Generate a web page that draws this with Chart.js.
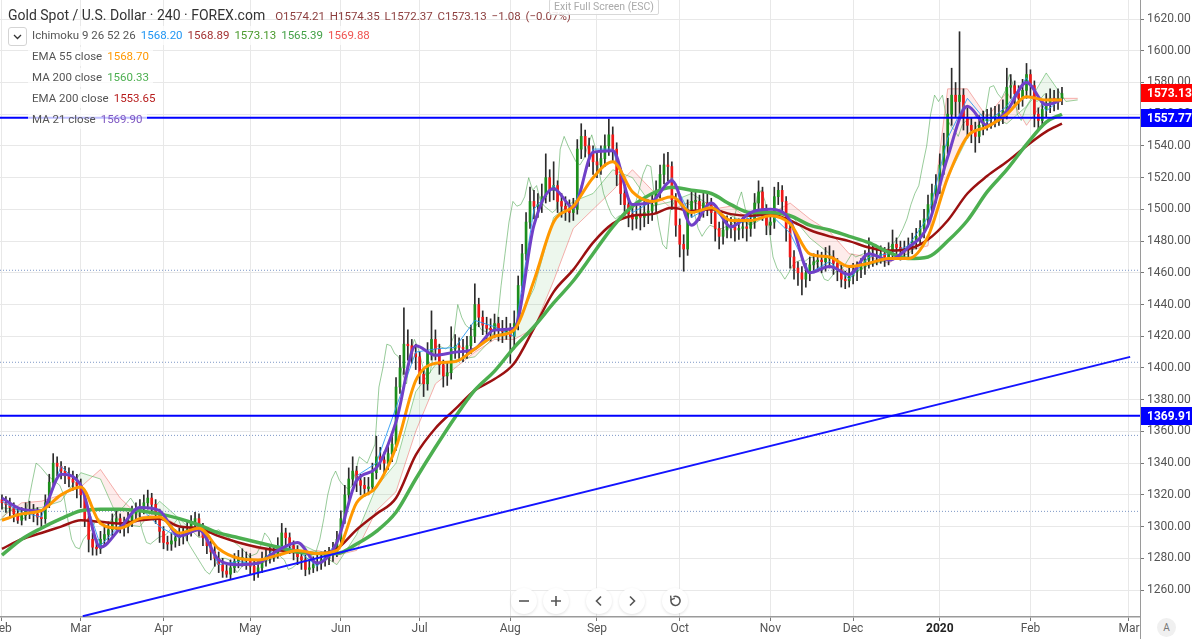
<!DOCTYPE html>
<html>
<head>
<meta charset="utf-8">
<title>Gold Spot / U.S. Dollar - 240</title>
<script src="https://cdn.jsdelivr.net/npm/chart.js@4.4.1/dist/chart.umd.min.js"></script>
<style>
  html, body { margin: 0; padding: 0; background: #fff; }
  #wrap { position: relative; width: 1192px; height: 639px; overflow: hidden; font-family: Roboto, "Noto Sans", sans-serif; }
  #chart { position: absolute; left: 0; top: 0; }
  .title { position: absolute; left: 8px; top: 5px; height: 20px; line-height: 20px; font-size: 14px; color: #333; white-space: nowrap; }
  .title .ohlc { margin-left: 10px; font-size: 11.5px; color: #8d3f3f; word-spacing: 2px; }
  .row { position: absolute; left: 28px; height: 19px; line-height: 19px; padding: 0 4px; font-size: 11.5px; color: #555; background: rgba(255,255,255,0.75); white-space: nowrap; }
  .row span { margin-left: 5px; }
  .toggle { position: absolute; left: 8px; top: 27px; width: 17px; height: 17px; border: 1px solid #d4d4d4; border-radius: 3px; background: #fff; }
  .exit { position: absolute; left: 549px; top: -1px; width: 108px; height: 14px; line-height: 14px; border: 1px solid #d8d8d8; border-radius: 2px; background: rgba(255,255,255,0.88); color: #aaa; font-size: 10.5px; text-align: center; }
  .btn { position: absolute; top: 588px; width: 26px; height: 26px; border-radius: 50%; background: #fff; box-shadow: 0 1px 3px rgba(0,0,0,0.12); }
  .btn svg { position: absolute; left: 6px; top: 6px; }
  .auto { position: absolute; left: 1157px; top: 618px; width: 19px; height: 19px; border-radius: 50%; background: #f0f0f0; color: #777; font-size: 10px; line-height: 19px; text-align: center; }
</style>
</head>
<body>
<div id="wrap">
  <canvas id="chart" width="1192" height="639"></canvas>

  <div class="title">Gold Spot / U.S. Dollar · 240 · FOREX.com<span class="ohlc">O1574.21 H1574.35 L1572.37 C1573.13 −1.08 (−0.07%)</span></div>
  <div class="exit">Exit Full Screen (ESC)</div>

  <div class="toggle"><svg width="17" height="17" viewBox="0 0 17 17"><path d="M5 7 L8.5 10.5 L12 7" fill="none" stroke="#333" stroke-width="1.3"/></svg></div>
  <div class="row" style="top:26px">Ichimoku 9 26 52 26<span style="color:#2196f3">1568.20</span><span style="color:#a33131">1568.89</span><span style="color:#4a9a2c">1573.13</span><span style="color:#43a047">1565.39</span><span style="color:#ef5350">1569.88</span></div>
  <div class="row" style="top:47px">EMA 55 close<span style="color:#ff9800">1568.70</span></div>
  <div class="row" style="top:68px">MA 200 close<span style="color:#4caf50">1560.33</span></div>
  <div class="row" style="top:89px">EMA 200 close<span style="color:#b71c1c">1553.65</span></div>
  <div class="row" style="top:110px">MA 21 close<span style="color:#7e57c2">1569.90</span></div>

  <div class="btn" style="left:511px"><svg width="14" height="14" viewBox="0 0 14 14"><path d="M2 7 H12" stroke="#555" stroke-width="1.6"/></svg></div>
  <div class="btn" style="left:543px"><svg width="14" height="14" viewBox="0 0 14 14"><path d="M2 7 H12 M7 2 V12" stroke="#555" stroke-width="1.6"/></svg></div>
  <div class="btn" style="left:586px"><svg width="14" height="14" viewBox="0 0 14 14"><path d="M9 2.5 L4.5 7 L9 11.5" fill="none" stroke="#555" stroke-width="1.6"/></svg></div>
  <div class="btn" style="left:619px"><svg width="14" height="14" viewBox="0 0 14 14"><path d="M5 2.5 L9.5 7 L5 11.5" fill="none" stroke="#555" stroke-width="1.6"/></svg></div>
  <div class="btn" style="left:662px"><svg width="14" height="14" viewBox="0 0 14 14"><path d="M3.2 5.2 A4.6 4.6 0 1 0 5.5 2.7" fill="none" stroke="#555" stroke-width="1.6"/><path d="M2.6 1.6 L3.1 5.6 L6.8 4.4" fill="none" stroke="#555" stroke-width="1.4"/></svg></div>
  <div class="auto">A</div>
</div>

<script>
// x values are trading days counted from 1 Feb 2019
const monthTicks = [0, 20, 41, 63, 86, 106, 129, 151, 172, 195, 216, 238, 261, 286];
const monthLabels = ['Feb', 'Mar', 'Apr', 'May', 'Jun', 'Jul', 'Aug', 'Sep', 'Oct', 'Nov', 'Dec', '2020', 'Feb', 'Mar'];
const priceTicks = [1260, 1280, 1300, 1320, 1340, 1360, 1380, 1400, 1420, 1440, 1460, 1480, 1500, 1520, 1540, 1560, 1580, 1600, 1620];

const firstOpen = 1317;
const closes = [
  1315,1314,1312,1308,1304,1307,1310,1310,1308,1306,
  1305,1315,1328,1340,1338,1335,1332,1330,1328,1326,
  1320,1305,1292,1287,1286,1292,1295,1298,1303,1305,
  1302,1300,1304,1308,1310,1312,1315,1318,1314,1308,
  1297,1290,1289,1291,1293,1294,1295,1298,1302,1305,
  1299,1293,1288,1284,1280,1276,1272,1270,1274,1278,
  1280,1280,1279,1275,1271,1274,1279,1281,1282,1283,
  1288,1296,1293,1288,1284,1281,1279,1273,1274,1276,
  1277,1279,1280,1282,1284,1292,1305,1320,1330,1335,
  1329,1326,1324,1325,1334,1344,1342,1340,1346,1352,
  1388,1400,1415,1414,1409,1407,1396,1390,1410,1418,
  1412,1402,1395,1397,1412,1414,1413,1412,1414,1420,
  1440,1432,1427,1425,1424,1428,1424,1423,1425,1420,
  1428,1452,1472,1492,1505,1502,1503,1508,1520,1512,
  1515,1505,1502,1500,1498,1500,1538,1546,1540,1535,
  1530,1528,1532,1540,1547,1538,1522,1510,1503,1497,
  1494,1496,1495,1498,1499,1503,1512,1522,1528,1527,
  1506,1490,1478,1475,1500,1505,1505,1500,1504,1503,
  1498,1488,1483,1487,1490,1489,1487,1488,1489,1488,
  1492,1504,1511,1500,1490,1492,1508,1512,1505,1488,
  1470,1463,1460,1456,1460,1465,1467,1468,1467,1469,
  1470,1466,1462,1456,1455,1458,1461,1462,1464,1468,
  1472,1470,1471,1472,1470,1474,1478,1476,1474,1475,
  1477,1480,1483,1488,1494,1503,1510,1515,1528,1540,
  1560,1572,1568,1572,1558,1553,1550,1546,1553,1556,
  1557,1558,1559,1560,1562,1577,1578,1573,1570,1575,
  1585,1578,1560,1556,1563,1567,1570,1568,1570,1573
];
const highs = [
  1320,1319,1318,1315,1311,1312,1315,1316,1314,1312,
  1310,1320,1333,1346,1344,1341,1338,1337,1335,1333,
  1330,1323,1308,1296,1292,1297,1300,1303,1308,1310,
  1308,1306,1309,1313,1315,1317,1320,1323,1321,1317,
  1311,1300,1294,1296,1298,1299,1300,1303,1307,1309,
  1308,1302,1296,1292,1288,1284,1280,1276,1279,1283,
  1285,1286,1284,1283,1279,1279,1284,1286,1287,1288,
  1293,1302,1299,1296,1291,1288,1285,1282,1279,1281,
  1282,1284,1285,1287,1290,1297,1310,1326,1337,1344,
  1338,1333,1331,1331,1340,1357,1350,1347,1352,1358,
  1394,1408,1438,1424,1418,1415,1410,1399,1416,1436,
  1424,1415,1405,1404,1426,1421,1419,1418,1420,1427,
  1453,1444,1436,1432,1431,1434,1432,1430,1432,1428,
  1436,1458,1478,1498,1514,1512,1510,1516,1535,1525,
  1530,1518,1510,1508,1506,1507,1544,1554,1550,1545,
  1540,1536,1540,1547,1557,1552,1542,1526,1514,1507,
  1502,1503,1502,1505,1506,1510,1518,1528,1535,1536,
  1530,1510,1494,1484,1506,1512,1512,1509,1511,1510,
  1507,1501,1492,1493,1496,1495,1494,1494,1495,1494,
  1498,1510,1518,1514,1503,1498,1514,1517,1515,1508,
  1491,1474,1467,1464,1466,1470,1472,1474,1473,1476,
  1477,1474,1469,1465,1461,1464,1466,1467,1469,1474,
  1482,1477,1476,1477,1476,1479,1487,1482,1480,1480,
  1482,1485,1488,1493,1500,1509,1516,1522,1535,1548,
  1570,1589,1580,1612,1576,1564,1558,1555,1559,1562,
  1563,1564,1565,1566,1569,1589,1585,1581,1578,1582,
  1592,1588,1581,1564,1569,1573,1576,1575,1576,1577
];
const lows = [
  1311,1309,1306,1303,1302,1301,1304,1305,1303,1301,
  1300,1302,1312,1325,1332,1330,1327,1325,1323,1318,
  1312,1300,1284,1282,1282,1283,1288,1291,1294,1298,
  1296,1294,1296,1300,1303,1306,1308,1311,1308,1302,
  1290,1286,1285,1285,1287,1288,1289,1291,1294,1297,
  1294,1288,1283,1279,1275,1271,1268,1268,1267,1271,
  1274,1275,1273,1270,1266,1268,1271,1275,1277,1278,
  1280,1285,1287,1283,1279,1276,1273,1269,1270,1271,
  1272,1273,1275,1276,1278,1281,1289,1302,1316,1326,
  1322,1320,1319,1320,1322,1330,1336,1334,1336,1341,
  1348,1384,1396,1405,1403,1399,1390,1382,1386,1405,
  1405,1396,1388,1389,1393,1406,1406,1404,1406,1409,
  1416,1426,1421,1418,1417,1419,1417,1416,1418,1403,
  1412,1424,1448,1468,1488,1494,1495,1498,1504,1505,
  1506,1498,1495,1493,1492,1493,1497,1532,1533,1527,
  1522,1520,1522,1527,1534,1530,1515,1503,1496,1489,
  1487,1488,1487,1489,1491,1493,1498,1507,1516,1518,
  1500,1483,1470,1461,1471,1495,1498,1493,1495,1496,
  1491,1480,1475,1478,1482,1482,1480,1481,1482,1480,
  1483,1488,1499,1493,1484,1484,1488,1503,1498,1480,
  1463,1456,1452,1446,1451,1455,1460,1461,1460,1461,
  1463,1459,1455,1451,1450,1451,1453,1455,1457,1459,
  1463,1464,1465,1466,1464,1465,1469,1470,1468,1469,
  1470,1472,1475,1478,1482,1489,1498,1504,1510,1522,
  1535,1553,1558,1560,1550,1545,1542,1536,1542,1547,
  1550,1551,1552,1553,1554,1557,1570,1566,1563,1565,
  1570,1571,1552,1550,1552,1558,1561,1562,1563,1566
];

// moving averages every 5 trading days
const maIdx = [0,5,10,15,20,25,30,35,40,45,50,55,60,65,70,75,80,85,90,95,100,105,110,115,120,125,130,135,140,145,150,155,160,165,170,175,180,185,190,195,200,205,210,215,220,225,230,235,240,245,250,255,260,265,269];
const ma21 = [
  1318,1311,1310,1333,1326,1287,1299,1312,1310,1294,
  1298,1279,1276,1277,1285,1290,1277,1290,1329,1337,
  1366,1414,1408,1410,1412,1424,1425,1490,1513,1501,
  1536,1537,1503,1505,1518,1490,1504,1489,1498,1500,
  1493,1460,1464,1459,1472,1468,1476,1490,1533,1565,
  1553,1562,1580,1566,1569
];
const ema55 = [
  1304,1308,1310,1320,1325,1302,1299,1305,1306,1296,
  1299,1286,1280,1279,1282,1285,1283,1285,1315,1325,
  1350,1392,1403,1404,1412,1420,1424,1455,1492,1502,
  1520,1530,1511,1505,1508,1498,1501,1493,1493,1496,
  1491,1472,1470,1464,1466,1469,1469,1483,1520,1546,
  1552,1560,1571,1569,1569
];
const ma200 = [
  1282,1292,1299,1305,1310,1311,1311,1310,1308,1305,
  1301,1296,1293,1290,1287,1284,1283,1283,1289,1297,
  1309,1330,1350,1369,1386,1398,1413,1426,1441,1455,
  1472,1489,1502,1510,1514,1512,1510,1503,1498,1498,
  1496,1490,1487,1483,1479,1473,1469,1470,1480,1493,
  1511,1525,1541,1555,1560
];
const ema200 = [
  1286,1292,1296,1300,1304,1303,1302,1304,1305,1300,
  1299,1294,1290,1287,1285,1284,1283,1286,1298,1308,
  1318,1345,1362,1374,1386,1393,1403,1425,1448,1462,
  1479,1491,1496,1497,1501,1499,1500,1497,1496,1497,
  1493,1487,1483,1480,1476,1474,1475,1481,1493,1510,
  1521,1530,1540,1549,1554
];
const tenkan = [
  1316,1309,1306,1338,1326,1288,1301,1312,1300,1293,
  1300,1276,1278,1276,1288,1285,1275,1290,1332,1340,
  1375,1410,1412,1413,1430,1426,1420,1500,1515,1500,
  1538,1538,1498,1505,1520,1495,1502,1488,1495,1497,
  1485,1460,1467,1456,1470,1472,1477,1495,1545,1570,
  1555,1565,1583,1562,1570
];

// Ichimoku cloud, shifted 26 bars ahead
const cloudIdx = [0,5,10,15,20,25,30,35,40,45,50,55,60,65,70,75,80,85,90,95,100,105,110,115,120,125,130,135,140,145,150,155,160,165,170,175,180,185,190,195,200,205,210,215,220,225,230,235,240,245,250,255,260,265,270,273];
const spanA = [
  1312,1310,1312,1316,1334,1330,1302,1300,1316,1305,
  1293,1298,1288,1276,1281,1290,1284,1276,1295,1325,
  1340,1385,1402,1405,1407,1420,1425,1450,1495,1505,
  1510,1525,1520,1502,1505,1510,1502,1496,1490,1497,
  1497,1482,1472,1458,1465,1468,1472,1482,1520,1545,
  1560,1554,1565,1586,1568,1569
];
const spanB = [
  1306,1315,1316,1320,1325,1336,1318,1306,1308,1300,
  1300,1295,1290,1286,1284,1283,1285,1282,1285,1310,
  1322,1360,1390,1400,1410,1418,1418,1425,1455,1488,
  1500,1512,1525,1512,1500,1505,1500,1502,1493,1497,
  1504,1494,1486,1472,1470,1466,1474,1477,1576,1576,
  1558,1574,1553,1570,1570,1570
];
const lagShift = 26 / 6;

// drawings
const lastPrice = 1573.13;
const levelLines = [1557.77, 1369.91];
const dottedLines = [1461.6, 1403.6, 1357.5, 1309.6];
const trendLine = [[20.5, 1243.5], [286.3, 1407]];

const X_MIN = -0.5, X_MAX = 288.8, Y_MIN = 1243, Y_MAX = 1632;
const UP = '#1c8f1c', DOWN = '#f01818', WICK = '#2b2b2b';
const FONT = 'Roboto, "Noto Sans", sans-serif';

const opens = closes.map((c, i) => i === 0 ? firstOpen : closes[i - 1]);
const wickData = closes.map((c, i) => ({ x: i, y: [lows[i], highs[i]] }));
const bodyData = closes.map((c, i) => ({ x: i, y: [opens[i], c] }));
const bodyColors = closes.map((c, i) => c >= opens[i] ? UP : DOWN);
const pts = (xs, ys) => xs.map((x, i) => ({ x: x, y: ys[i] }));
const lagData = closes.map((c, i) => ({ x: i - lagShift, y: c }));

function lineSet(label, data, color, width, order, extra) {
  return Object.assign({
    type: 'line', label: label, data: data, borderColor: color, borderWidth: width,
    pointRadius: 0, fill: false, tension: 0, order: order
  }, extra || {});
}

const datasets = [
  lineSet('Span A', pts(cloudIdx, spanA), 'rgba(76,175,80,0.55)', 1, 12,
    { fill: { target: '+1', above: 'rgba(76,175,80,0.10)', below: 'rgba(244,67,54,0.10)' } }),
  lineSet('Span B', pts(cloudIdx, spanB), 'rgba(239,83,80,0.45)', 1, 12),
  lineSet('Lagging', lagData, 'rgba(67,160,71,0.55)', 1, 10),
  { type: 'bar', label: 'wick', data: wickData, backgroundColor: WICK, barThickness: 1, grouped: false, order: 9 },
  { type: 'bar', label: 'body', data: bodyData, backgroundColor: bodyColors, barThickness: 2, minBarLength: 1, grouped: false, order: 8 },
  lineSet('Tenkan', pts(maIdx, tenkan), 'rgba(33,150,243,0.85)', 1, 7),
  lineSet('EMA 200', pts(maIdx, ema200), '#9b1111', 2.5, 6, { cubicInterpolationMode: 'monotone' }),
  lineSet('MA 200', pts(maIdx, ma200), '#4caf50', 3.5, 5, { cubicInterpolationMode: 'monotone' }),
  lineSet('MA 21', pts(maIdx, ma21), '#7040c8', 3, 4, { cubicInterpolationMode: 'monotone' }),
  lineSet('EMA 55', pts(maIdx, ema55), '#ff9800', 3, 3, { cubicInterpolationMode: 'monotone' })
];
dottedLines.forEach(v => datasets.push(lineSet('dotted', [{ x: X_MIN, y: v }, { x: X_MAX, y: v }], '#7d97c6', 1, 11, { borderDash: [1, 2] })));
levelLines.forEach(v => datasets.push(lineSet('level', [{ x: X_MIN, y: v }, { x: X_MAX, y: v }], '#0000ff', 2, 0)));
datasets.push(lineSet('trend', trendLine.map(p => ({ x: p[0], y: p[1] })), '#1414ff', 2, 0));

const priceTags = [
  { value: lastPrice, color: '#ff0000' },
  { value: levelLines[0], color: '#0000ff' },
  { value: levelLines[1], color: '#0000ff' }
];

const axisTags = {
  id: 'axisTags',
  afterDraw(chart) {
    const { ctx, chartArea } = chart;
    const y = chart.scales.y;
    ctx.save();
    ctx.strokeStyle = '#9a9a9a';
    ctx.lineWidth = 1;
    ctx.beginPath();
    ctx.moveTo(chartArea.right + 0.5, chartArea.bottom);
    ctx.lineTo(chartArea.right + 0.5, chart.height);
    ctx.stroke();
    priceTags.forEach(t => {
      const py = Math.round(y.getPixelForValue(t.value));
      ctx.fillStyle = t.color;
      ctx.fillRect(chartArea.right + 1, py - 9, chart.width - chartArea.right, 18);
      ctx.fillStyle = '#fff';
      ctx.font = 'bold 12px ' + FONT;
      ctx.textBaseline = 'middle';
      ctx.textAlign = 'left';
      ctx.fillText(t.value.toFixed(2), chartArea.right + 7, py + 1);
    });
    ctx.restore();
  }
};

Chart.defaults.font.family = FONT;

new Chart(document.getElementById('chart').getContext('2d'), {
  type: 'bar',
  data: { datasets: datasets },
  options: {
    responsive: false,
    maintainAspectRatio: false,
    animation: false,
    devicePixelRatio: 1,
    events: [],
    layout: { padding: 0 },
    plugins: { legend: { display: false }, tooltip: { enabled: false } },
    scales: {
      x: {
        type: 'linear',
        min: X_MIN,
        max: X_MAX,
        offset: false,
        afterBuildTicks: s => { s.ticks = monthTicks.map(v => ({ value: v })); },
        afterFit: s => { s.height = 22; s.paddingLeft = 0; s.paddingRight = 0; },
        ticks: {
          autoSkip: false,
          maxRotation: 0,
          padding: 1,
          color: ctx => (ctx.tick && ctx.tick.value === 238) ? '#222' : '#555',
          font: ctx => ({ size: 12, weight: (ctx.tick && ctx.tick.value === 238) ? 'bold' : 'normal' }),
          callback: (v, i) => monthLabels[i]
        },
        grid: { color: '#e8e8e8', tickColor: '#777', tickLength: 4, offset: false },
        border: { color: '#9a9a9a', width: 1.5 }
      },
      y: {
        position: 'right',
        min: Y_MIN,
        max: Y_MAX,
        afterBuildTicks: s => { s.ticks = priceTicks.map(v => ({ value: v })); },
        afterFit: s => { s.width = 52; s.paddingTop = 0; s.paddingBottom = 0; },
        ticks: {
          padding: 3,
          color: '#555',
          font: { size: 12 },
          callback: v => v.toFixed(2)
        },
        grid: { color: '#e8e8e8', tickColor: '#777', tickLength: 4 },
        border: { color: '#9a9a9a', width: 1 }
      }
    }
  },
  plugins: [axisTags]
});
</script>
</body>
</html>
